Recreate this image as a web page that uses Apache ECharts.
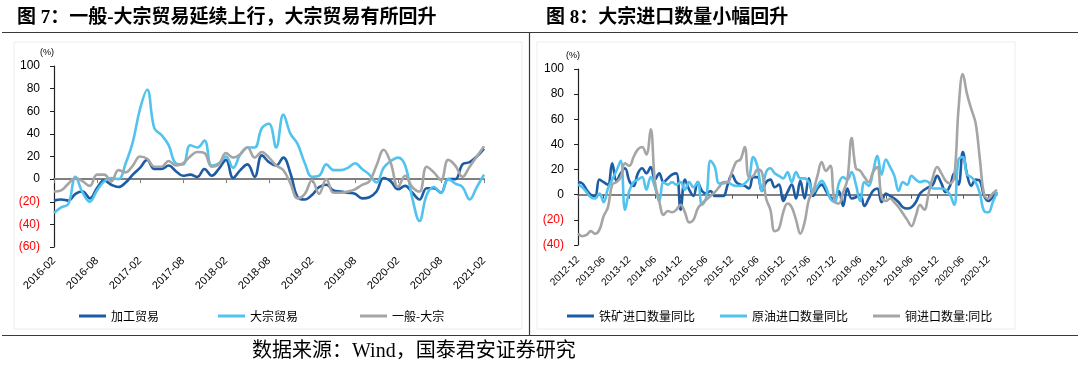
<!DOCTYPE html>
<html><head><meta charset="utf-8">
<script src="https://cdn.jsdelivr.net/npm/echarts@6/dist/echarts.min.js"></script>
<style>html,body{margin:0;padding:0;background:#fff}#c{width:1080px;height:365px}</style>
</head><body><div id="c"></div>
<script>
// ---------- Figure 7 data (2016-02 .. 2021-02, %) ----------
const leftCategories = [
 '2016-02','2016-03','2016-04','2016-05','2016-06','2016-07','2016-08','2016-09','2016-10','2016-11','2016-12',
 '2017-01','2017-02','2017-03','2017-04','2017-05','2017-06','2017-07','2017-08','2017-09','2017-10','2017-11','2017-12',
 '2018-01','2018-02','2018-03','2018-04','2018-05','2018-06','2018-07','2018-08','2018-09','2018-10','2018-11','2018-12',
 '2019-01','2019-02','2019-03','2019-04','2019-05','2019-06','2019-07','2019-08','2019-09','2019-10','2019-11','2019-12',
 '2020-01','2020-02','2020-03','2020-04','2020-05','2020-06','2020-07','2020-08','2020-09','2020-10','2020-11','2020-12',
 '2021-01','2021-02'];
const processingTrade = [-19,-18,-19,-13,-11,-17,-8,-1,-5,-7,-3,4,10,17,9,9,12,7,3,4,2,9,3,9,17,1,8,13,2,21,15,12,19,5,-16,-18,-14,-7,-5,-10,-11,-12,-13,-17,-16,-11,1,-2,-9,-6,-12,-18,-8,-8,-12,0,0,13,15,20,27];
const bulkTrade = [-30,-25,-22,2,-12,-20,-10,-2,1,0,14,33,62,79,45,39,30,14,13,30,28,34,12,14,20,10,22,28,28,45,49,28,57,40,31,14,2,3,13,8,8,10,14,9,4,-3,10,16,19,12,-17,-37,-14,-7,-12,0,-4,-7,-18,-7,4];
const generalMinusBulk = [-11,-10,-4,1,-2,-6,4,4,-2,8,6,12,20,18,11,11,16,12,14,20,24,23,11,13,23,19,22,28,19,24,19,12,8,-4,-17,-13,-1,-13,0,-12,-12,-11,-9,-5,-2,12,26,14,-7,3,-7,-11,11,6,-1,17,12,2,11,20,29];
const leftNames = ['加工贸易','大宗贸易','一般-大宗'];
const leftTicks = [-60,-40,-20,0,20,40,60,80,100];

// ---------- Figure 8 data (2012-12 .. 2021-02, %) ----------
const rightCategories = ['2012-12',
 '2013-01','2013-02','2013-03','2013-04','2013-05','2013-06','2013-07','2013-08','2013-09','2013-10','2013-11','2013-12',
 '2014-01','2014-02','2014-03','2014-04','2014-05','2014-06','2014-07','2014-08','2014-09','2014-10','2014-11','2014-12',
 '2015-01','2015-02','2015-03','2015-04','2015-05','2015-06','2015-07','2015-08','2015-09','2015-10','2015-11','2015-12',
 '2016-01','2016-02','2016-03','2016-04','2016-05','2016-06','2016-07','2016-08','2016-09','2016-10','2016-11','2016-12',
 '2017-01','2017-02','2017-03','2017-04','2017-05','2017-06','2017-07','2017-08','2017-09','2017-10','2017-11','2017-12',
 '2018-01','2018-02','2018-03','2018-04','2018-05','2018-06','2018-07','2018-08','2018-09','2018-10','2018-11','2018-12',
 '2019-01','2019-02','2019-03','2019-04','2019-05','2019-06','2019-07','2019-08','2019-09','2019-10','2019-11','2019-12',
 '2020-01','2020-02','2020-03','2020-04','2020-05','2020-06','2020-07','2020-08','2020-09','2020-10','2020-11','2020-12',
 '2021-01','2021-02'];
const ironOre = [10,9,4,0,-1,12,10,8,25,11,17,21,11,7,17,21,17,22,12,17,10,13,16,17,-12,12,4,-1,10,3,1,3,-1,-1,-1,8,16,10,8,7,5,14,14,3,10,12,6,8,-5,2,8,-3,11,-3,13,-1,5,8,3,-2,-4,3,-9,5,-3,-2,0,-9,-3,3,5,-6,1,-1,-3,-6,-10,-11,-10,-6,1,4,6,8,15,9,2,7,17,8,34,16,7,12,11,-1,-5,-2,2];
const crudeOil = [8,6,2,-2,-3,1,-6,5,12,19,27,-12,3,10,12,14,4,14,6,-5,10,8,10,8,10,4,10,6,10,-8,-2,27,22,9,9,10,8,7,7,9,13,30,22,3,18,21,17,15,13,18,10,18,13,13,10,2,7,11,6,-3,-6,9,14,12,18,8,-5,10,7,18,31,16,28,22,15,3,10,8,15,12,10,11,10,5,5,5,4,0,-8,28,30,16,14,10,1,-13,-14,-6,2];
const copper = [-31,-33,-32,-29,-31,-28,-17,-10,8,10,14,25,23,30,36,38,32,52,10,-5,-16,-13,-14,-12,-8,-14,-22,-20,-11,-7,-4,-1,2,6,10,10,18,26,28,38,14,15,20,18,-3,-12,-29,-27,-14,-7,-10,-20,-31,-22,-4,3,15,26,19,23,-5,-7,2,12,45,21,19,14,10,18,22,-2,-5,-3,-6,-10,-15,-20,-25,-17,-8,-12,1,14,22,17,11,9,14,68,96,80,68,57,28,0,-3,1,4];
const rightNames = ['铁矿进口数量同比','原油进口数量同比','铜进口数量:同比'];
const rightTicks = [-40,-20,0,20,40,60,80,100];

const DARK = '#1d5ba3', LIGHT = '#52c2ee', GRAY = '#a5a5a5';
const latin = '"Liberation Sans", Arial, sans-serif';
const cjk = '"Noto Sans CJK SC", sans-serif';
const serifMix = '"Liberation Serif", "Noto Sans CJK SC", serif';

const chart = echarts.init(document.getElementById('c'), null, {renderer: 'canvas'});

function yAxisCfg(grid, ticks) {
  return {
    type: 'value', gridIndex: grid,
    min: ticks[0], max: ticks[ticks.length - 1], interval: 20,
    axisLine: {show: true, lineStyle: {color: '#222', width: 1.2}},
    axisTick: {show: true, length: 4, lineStyle: {color: '#222', width: 1}},
    splitLine: {show: false},
    axisLabel: {
      margin: 14, fontSize: 12, fontFamily: latin,
      formatter: v => v < 0 ? '(' + (-v) + ')' : String(v),
      color: v => Number(v) < 0 ? '#ff0000' : '#000000'
    }
  };
}
function zeroAxis(grid, cats, lw, col) {
  return {
    type: 'category', gridIndex: grid, data: cats, boundaryGap: false, position: 'bottom',
    axisLine: {show: true, onZero: true, lineStyle: {color: col, width: lw}},
    axisTick: {show: true, interval: 5, length: 4, lineStyle: {color: col, width: 1}},
    axisLabel: {show: false}, splitLine: {show: false}
  };
}
function labelAxis(grid, cats, fs, margin) {
  return {
    type: 'category', gridIndex: grid, data: cats, boundaryGap: false, position: 'bottom',
    axisLine: {show: false, onZero: false}, axisTick: {show: false}, splitLine: {show: false},
    axisLabel: {interval: 5, rotate: 45, fontSize: fs, fontFamily: latin, color: '#000', margin: margin}
  };
}
function lineSeries(name, data, color, xi, yi) {
  return {
    name, type: 'line', data, xAxisIndex: xi, yAxisIndex: yi,
    smooth: 0.4, showSymbol: false, symbol: 'none',
    lineStyle: {color, width: 2.6}, itemStyle: {color}, z: 3
  };
}
function legendAt(name, left, top) {
  return {
    data: [name], left, top, icon: 'rect', itemWidth: 27, itemHeight: 3, itemGap: 4,
    selectedMode: false,
    textStyle: {fontSize: 12, fontFamily: cjk, color: '#000', padding: [0, 0, 0, 0]}
  };
}

const option = {
  animation: false,
  backgroundColor: '#fff',
  title: [
    {text: '图 7：一般-大宗贸易延续上行，大宗贸易有所回升', left: 12, top: 4,
     textStyle: {fontSize: 19, fontWeight: 'bold', fontFamily: serifMix, color: '#000'}},
    {text: '图 8：大宗进口数量小幅回升', left: 541, top: 4,
     textStyle: {fontSize: 19, fontWeight: 'bold', fontFamily: serifMix, color: '#000'}}
  ],
  grid: [
    {left: 54, top: 66, width: 430, height: 181},
    {left: 578, top: 69, width: 419, height: 176}
  ],
  xAxis: [
    zeroAxis(0, leftCategories, 2, '#7f7f7f'),
    labelAxis(0, leftCategories, 11, 12),
    zeroAxis(1, rightCategories, 1.5, '#595959'),
    labelAxis(1, rightCategories, 10, 13)
  ],
  yAxis: [yAxisCfg(0, leftTicks), yAxisCfg(1, rightTicks)],
  legend: [
    legendAt(leftNames[0], 74, 305), legendAt(leftNames[1], 213, 305), legendAt(leftNames[2], 355, 305),
    legendAt(rightNames[0], 562, 305), legendAt(rightNames[1], 715, 305), legendAt(rightNames[2], 868, 305)
  ],
  series: [
    lineSeries(leftNames[0], processingTrade, DARK, 0, 0),
    lineSeries(leftNames[1], bulkTrade, LIGHT, 0, 0),
    lineSeries(leftNames[2], generalMinusBulk, GRAY, 0, 0),
    lineSeries(rightNames[0], ironOre, DARK, 2, 1),
    lineSeries(rightNames[1], crudeOil, LIGHT, 2, 1),
    lineSeries(rightNames[2], copper, GRAY, 2, 1)
  ],
  graphic: [
    {type: 'rect', shape: {x: 14, y: 42, width: 508, height: 287}, style: {fill: null, stroke: '#ededed', lineWidth: 1}, silent: true, z: -1},
    {type: 'rect', shape: {x: 537, y: 42, width: 478, height: 287}, style: {fill: null, stroke: '#ededed', lineWidth: 1}, silent: true, z: -1},
    {type: 'line', shape: {x1: 2, y1: 32.5, x2: 1078, y2: 32.5}, style: {stroke: '#3a3a3a', lineWidth: 1.2}, silent: true},
    {type: 'line', shape: {x1: 2, y1: 335.5, x2: 1078, y2: 335.5}, style: {stroke: '#3a3a3a', lineWidth: 1.2}, silent: true},
    {type: 'line', shape: {x1: 529.5, y1: 32.5, x2: 529.5, y2: 335.5}, style: {stroke: '#3a3a3a', lineWidth: 1.2}, silent: true},
    {type: 'text', left: 40, top: 48, style: {text: '(%)', fontSize: 9, fontFamily: latin, fill: '#000'}},
    {type: 'text', left: 566, top: 51, style: {text: '(%)', fontSize: 9, fontFamily: latin, fill: '#000'}},
    {type: 'text', left: 252, top: 342, style: {text: '数据来源：Wind，国泰君安证券研究', fontSize: 20, fontFamily: serifMix, fill: '#000'}}
  ]
};
chart.setOption(option);
</script>
</body></html>
